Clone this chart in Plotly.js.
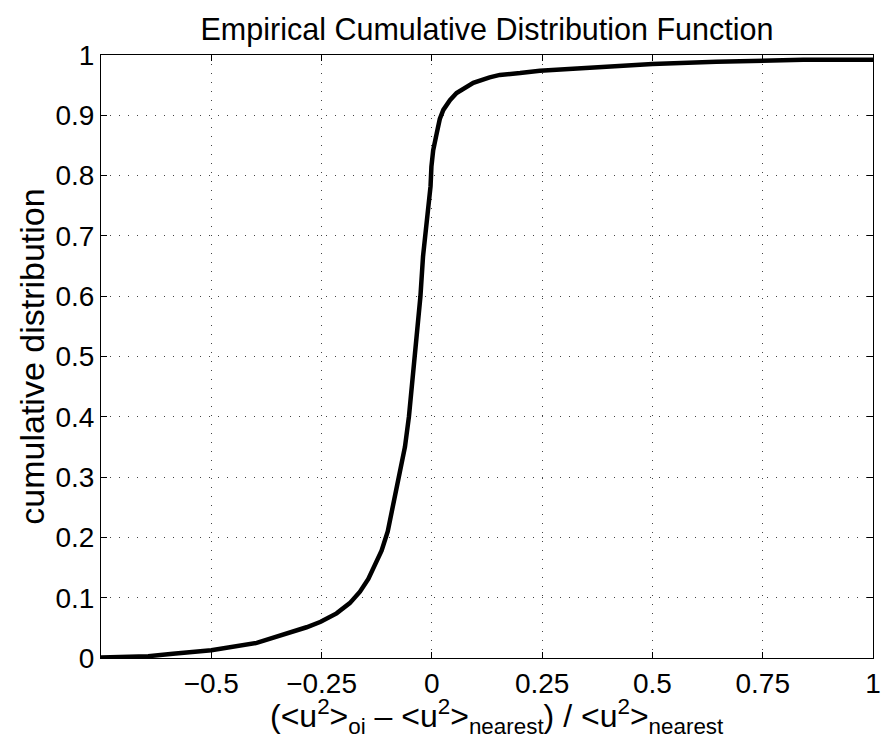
<!DOCTYPE html>
<html>
<head>
<meta charset="utf-8">
<script src="https://cdn.plot.ly/plotly-3.0.1.min.js"></script>
<style>html,body{margin:0;padding:0;background:#fff;}#chart{width:883px;height:746px;}</style>
</head>
<body>
<div id="chart"></div>
<script>
// Empirical CDF values
const xValues = [-0.75, -0.70, -0.643, -0.587, -0.50, -0.397, -0.322, -0.284, -0.252, -0.216, -0.186, -0.163, -0.144, -0.130, -0.114, -0.100, -0.091, -0.074, -0.061, -0.052, -0.047, -0.041, -0.033, -0.026, -0.020, -0.012, -0.006, -0.003, -0.001, 0.003, 0.011, 0.018, 0.026, 0.033, 0.041, 0.056, 0.064, 0.094, 0.131, 0.154, 0.20, 0.245, 0.32, 0.396, 0.50, 0.645, 0.842, 1.0];
const cdfValues = [0.001, 0.002, 0.003, 0.007, 0.013, 0.025, 0.041, 0.051, 0.060, 0.074, 0.091, 0.110, 0.131, 0.155, 0.178, 0.210, 0.243, 0.298, 0.350, 0.400, 0.435, 0.494, 0.538, 0.599, 0.666, 0.721, 0.760, 0.782, 0.815, 0.842, 0.870, 0.894, 0.909, 0.918, 0.925, 0.937, 0.941, 0.954, 0.963, 0.967, 0.970, 0.974, 0.977, 0.981, 0.985, 0.989, 0.992, 0.992];
const xTickVals = [-0.5, -0.25, 0, 0.25, 0.5, 0.75, 1];
const xTickText = ['\u22120.5', '\u22120.25', '0', '0.25', '0.5', '0.75', '1'];
const yTickVals = [0, 0.1, 0.2, 0.3, 0.4, 0.5, 0.6, 0.7, 0.8, 0.9, 1];
const yTickText = ['0', '0.1', '0.2', '0.3', '0.4', '0.5', '0.6', '0.7', '0.8', '0.9', '1'];
const titleText = 'Empirical Cumulative Distribution Function';
const xLabelText = '(&lt;u<sup>2</sup>&gt;<sub>oi</sub> \u2013 &lt;u<sup>2</sup>&gt;<sub>nearest</sub>) / &lt;u<sup>2</sup>&gt;<sub>nearest</sub>';
const yLabelText = 'cumulative distribution';

const font = 'Liberation Sans, Arial, Helvetica, sans-serif';

const trace = {
  x: xValues, y: cdfValues, type: 'scatter', mode: 'lines',
  line: {color: '#000', width: 4.5, shape: 'linear'},
  hoverinfo: 'skip', showlegend: false
};

const axisCommon = {
  showline: true, linecolor: '#000', linewidth: 1, mirror: 'ticks',
  ticks: 'inside', ticklen: 6, tickwidth: 1, tickcolor: '#000',
  showgrid: true, gridcolor: '#444', gridwidth: 1, griddash: '1px,8px',
  zeroline: false, tickfont: {family: font, size: 28, color: '#000'}
};

const layout = {
  width: 883, height: 746,
  paper_bgcolor: '#fff', plot_bgcolor: '#fff',
  margin: {l: 101, r: 10, t: 55, b: 88},
  title: {text: titleText, font: {family: font, size: 30.5, color: '#000'},
          x: 0.5, xref: 'paper', xanchor: 'center', y: 1 - 29/746, yref: 'container', yanchor: 'middle'},
  xaxis: Object.assign({}, axisCommon, {
    range: [-0.75, 1], tickmode: 'array', tickvals: xTickVals, ticktext: xTickText
  }),
  yaxis: Object.assign({}, axisCommon, {
    range: [0, 1], tickmode: 'array', tickvals: yTickVals, ticktext: yTickText,
    title: {text: yLabelText, font: {family: font, size: 34, color: '#000'}, standoff: 0}
  }),
  annotations: [{
    text: xLabelText, xref: 'paper', yref: 'paper', x: 0.5, y: 0,
    xanchor: 'center', yanchor: 'top', xshift: 10, yshift: -34, showarrow: false,
    font: {family: font, size: 32, color: '#000'}
  }]
};

Plotly.newPlot('chart', [trace], layout, {displayModeBar: false, staticPlot: true});
</script>
</body>
</html>
